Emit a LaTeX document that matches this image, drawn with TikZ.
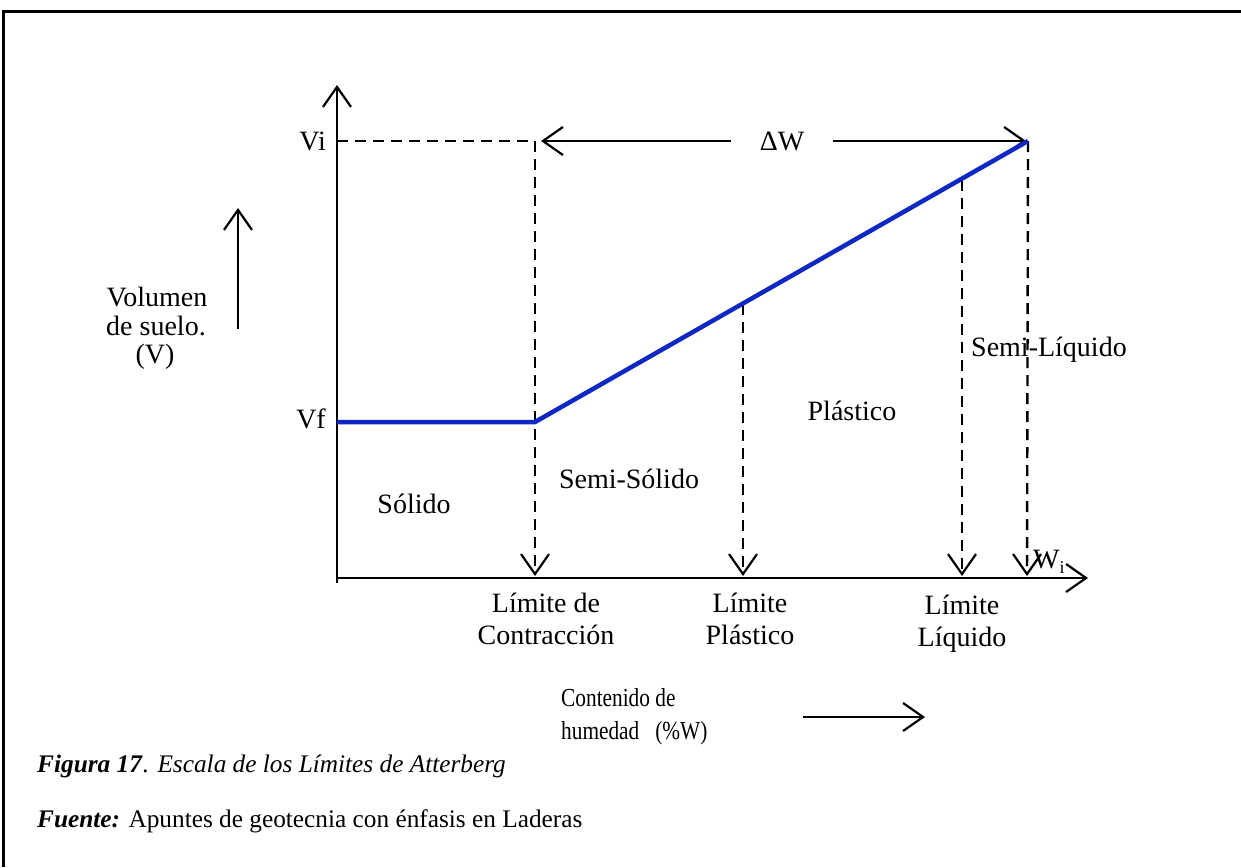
\documentclass[tikz,border=0pt]{standalone}
\usepackage{fontspec}
\setmainfont{Liberation Serif}
\newfontfamily\condfont[FakeStretch=0.82]{Liberation Serif}
\usetikzlibrary{arrows.meta}
\definecolor{curveblue}{RGB}{15,40,195}
\tikzset{
  barb/.tip={Straight Barb[length=20pt,width=28pt,line width=2.2pt]},
  axisline/.style={line width=2.4pt,-barb},
  dashline/.style={line width=2.4pt,dash pattern=on 11pt off 7pt},
  curve/.style={line width=4.5pt,curveblue,line join=miter},
  lbl/.style={font=\fontsize{28}{32}\selectfont,inner sep=0pt,align=center},
  captext/.style={font=\fontsize{25.3}{30}\selectfont,inner sep=0pt,anchor=base west},
}
\begin{document}
\begin{tikzpicture}[x=1pt,y=-1pt]
\useasboundingbox (0,0) rectangle (1241,867);
% frame
\draw[line width=3pt] (3,867) -- (3,12) -- (1241,12);
% coordinates
\coordinate (ybot) at (337,583);
\coordinate (ytop) at (337,85);
\coordinate (xbeg) at (337,578);
\coordinate (xend) at (1088,578);
\coordinate (vil) at (337,141);
\coordinate (A) at (535,141);
\coordinate (vfl) at (337,422);
\coordinate (B) at (535,422);
\coordinate (C) at (1028,141);
\coordinate (P) at (743,304);
\coordinate (L) at (962,180);
\coordinate (Ab) at (535,576);
\coordinate (Pb) at (743,576);
\coordinate (Lb) at (962,576);
\coordinate (Cb) at (1027,576);
% axes
\draw[axisline] (ybot) -- (ytop);
\draw[axisline] (xbeg) -- (xend);
% dashed lines
\draw[dashline] (vil) -- (A);
\draw[dashline,-barb] (A) -- (Ab);
\draw[dashline,-barb] (P) -- (Pb);
\draw[dashline,-barb] (L) -- (Lb);
\draw[dashline,-barb] (C) -- (Cb);
% Delta W
\node[lbl,minimum width=101pt] (dw) at (782,141) {ΔW};
\draw[axisline] (dw.west) -- (541,141);
\draw[axisline] (dw.east) -- (1026,141);
% blue curve
\draw[curve] (vfl) -- (B) -- (C);
% axis labels
\node[lbl,anchor=east] (vi) at (326,141) {Vi};
\node[lbl,anchor=east] (vf) at (326,419) {Vf};
\node[lbl] (vol1) at (157,297) {Volumen};
\node[lbl] (vol2) at (156,326) {de suelo.};
\node[lbl] (vol3) at (155,357) {(V)};
\coordinate (upb) at (238,329);
\coordinate (upt) at (238,208);
\draw[axisline] (upb) -- (upt);
% region labels
\node[lbl] (sol) at (414,504) {Sólido};
\node[lbl] (semis) at (629,479) {Semi-Sólido};
\node[lbl] (plas) at (852,411) {Plástico};
\node[lbl,anchor=west] (semil) at (971,350) {Semi-Líquido};
\node[lbl,anchor=west] (wi) at (1033,562) {W\raisebox{-0.35ex}{\fontsize{18}{18}\selectfont i}};
% limits
\node[lbl] (lc) at (546,619) {Límite de\\Contracción};
\node[lbl] (lp) at (750,619) {Límite\\Plástico};
\node[lbl] (ll) at (962,624) {Límite\\Líquido};
% moisture content
\node[lbl,anchor=north west,align=left,font=\condfont\fontsize{26}{33}\selectfont] (cont) at (561,688) {Contenido de\\humedad\ \ \ (\%W)};
\coordinate (ca) at (803,717);
\coordinate (cb) at (925,717);
\draw[line width=2.4pt,-barb] (ca) -- (cb);
% caption
\node[captext] (fig) at (37,772) {\textbf{\textit{Figura 17}}\textit{. Escala de los Límites de Atterberg}};
\node[captext] (src) at (37,827) {\textbf{\textit{Fuente:}} Apuntes de geotecnia con énfasis en Laderas};
\end{tikzpicture}
\end{document}
